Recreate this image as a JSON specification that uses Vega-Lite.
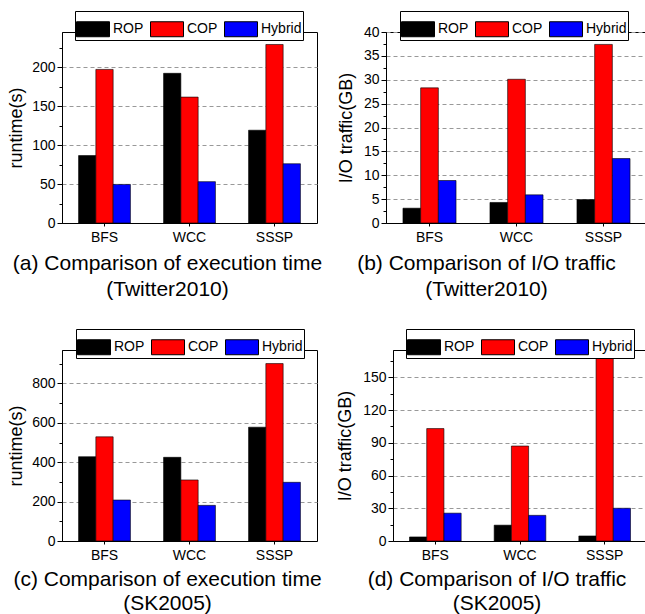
{
  "$schema": "https://vega.github.io/schema/vega-lite/v6.json",
  "padding": {"left": 7, "top": 10, "right": 0, "bottom": 0},
  "background": "white",
  "config": {
    "font": "Liberation Sans",
    "view": {"stroke": "#000", "strokeWidth": 1},
    "axis": {"domainColor": "#000", "tickColor": "#000", "labelColor": "#000", "titleColor": "#000", "labelFontSize": 14, "titleFontSize": 18, "titleFontWeight": "normal", "labelFont": "Liberation Sans", "titleFont": "Liberation Sans"},
    "title": {"fontSize": 21, "fontWeight": "normal", "font": "Liberation Sans", "color": "#000", "orient": "bottom", "anchor": "middle", "frame": "group", "baseline": "top", "lineHeight": 26, "offset": 9},
    "legend": {"orient": "none", "direction": "horizontal", "title": null, "symbolType": "M-1,-0.4545H1V0.4545H-1Z", "symbolSize": 1089, "symbolStrokeColor": "#000", "symbolStrokeWidth": 1, "labelFontSize": 14, "labelFont": "Liberation Sans", "labelColor": "#000", "strokeColor": "#000", "fillColor": "white", "padding": 1, "columnPadding": 4, "labelOffset": 3}
  },
  "datasets": {
    "a": [
      {"algo": "BFS", "method": "ROP", "value": 86.5}, {"algo": "BFS", "method": "COP", "value": 197}, {"algo": "BFS", "method": "Hybrid", "value": 49.5},
      {"algo": "WCC", "method": "ROP", "value": 192}, {"algo": "WCC", "method": "COP", "value": 161.5}, {"algo": "WCC", "method": "Hybrid", "value": 53},
      {"algo": "SSSP", "method": "ROP", "value": 119}, {"algo": "SSSP", "method": "COP", "value": 229}, {"algo": "SSSP", "method": "Hybrid", "value": 76}
    ],
    "b": [
      {"algo": "BFS", "method": "ROP", "value": 3.1}, {"algo": "BFS", "method": "COP", "value": 28.3}, {"algo": "BFS", "method": "Hybrid", "value": 8.9},
      {"algo": "WCC", "method": "ROP", "value": 4.3}, {"algo": "WCC", "method": "COP", "value": 30.1}, {"algo": "WCC", "method": "Hybrid", "value": 5.9},
      {"algo": "SSSP", "method": "ROP", "value": 4.9}, {"algo": "SSSP", "method": "COP", "value": 37.4}, {"algo": "SSSP", "method": "Hybrid", "value": 13.5}
    ],
    "c": [
      {"algo": "BFS", "method": "ROP", "value": 428}, {"algo": "BFS", "method": "COP", "value": 529}, {"algo": "BFS", "method": "Hybrid", "value": 208},
      {"algo": "WCC", "method": "ROP", "value": 425}, {"algo": "WCC", "method": "COP", "value": 310}, {"algo": "WCC", "method": "Hybrid", "value": 181},
      {"algo": "SSSP", "method": "ROP", "value": 578}, {"algo": "SSSP", "method": "COP", "value": 901}, {"algo": "SSSP", "method": "Hybrid", "value": 298}
    ],
    "d": [
      {"algo": "BFS", "method": "ROP", "value": 3.7}, {"algo": "BFS", "method": "COP", "value": 103}, {"algo": "BFS", "method": "Hybrid", "value": 25.5},
      {"algo": "WCC", "method": "ROP", "value": 14.5}, {"algo": "WCC", "method": "COP", "value": 87}, {"algo": "WCC", "method": "Hybrid", "value": 23.5},
      {"algo": "SSSP", "method": "ROP", "value": 4.6}, {"algo": "SSSP", "method": "COP", "value": 170}, {"algo": "SSSP", "method": "Hybrid", "value": 30}
    ]
  },
  "spacing": 27,
  "resolve": {"scale": {"x": "independent", "y": "independent", "xOffset": "independent", "fill": "independent"}, "legend": {"fill": "independent"}},
  "vconcat": [
    {
      "hconcat": [
        {
          "width": 255, "height": 191,
          "data": {"name": "a"},
          "title": {"text": ["(a) Comparison of execution time", "(Twitter2010)"], "dx": -22},
          "layer": [
            {
              "mark": {"type": "bar", "stroke": "#000", "strokeWidth": 1, "strokeOpacity": 0.6},
              "encoding": {
                "x": {"field": "algo", "type": "nominal", "sort": ["BFS", "WCC", "SSSP"], "scale": {"paddingInner": 0.39, "paddingOuter": 0.195}, "axis": {"title": null, "labelAngle": 0, "tickSize": 3, "labelPadding": 4, "grid": false}},
                "xOffset": {"field": "method", "type": "nominal", "sort": ["ROP", "COP", "Hybrid"], "scale": {"paddingInner": 0, "paddingOuter": 0}},
                "y": {"field": "value", "type": "quantitative", "scale": {"domain": [0, 245], "nice": false}, "axis": {"title": "runtime(s)", "values": [0, 50, 100, 150, 200], "grid": true, "gridDash": [4, 3], "gridColor": "#999", "tickSize": 5, "labelPadding": 2, "titlePadding": 6}},
                "fill": {"field": "method", "type": "nominal", "scale": {"domain": ["ROP", "COP", "Hybrid"], "range": ["#000000", "#ff0000", "#0000ff"]}, "legend": {"legendX": 13, "legendY": -21}}
              }
            },
            {
              "mark": {"type": "point", "opacity": 0},
              "encoding": {"y": {"field": "value", "type": "quantitative", "axis": {"orient": "left", "values": [25, 75, 125, 175, 225], "labels": false, "tickSize": 3, "domain": false, "grid": false, "title": null}}}
            }
          ],
          "resolve": {"axis": {"y": "independent"}}
        },
        {
          "width": 261, "height": 191,
          "data": {"name": "b"},
          "title": {"text": ["(b) Comparison of I/O traffic", "(Twitter2010)"], "dx": -30},
          "layer": [
            {
              "mark": {"type": "bar", "stroke": "#000", "strokeWidth": 1, "strokeOpacity": 0.6},
              "encoding": {
                "x": {"field": "algo", "type": "nominal", "sort": ["BFS", "WCC", "SSSP"], "scale": {"paddingInner": 0.39, "paddingOuter": 0.195}, "axis": {"title": null, "labelAngle": 0, "tickSize": 3, "labelPadding": 4, "grid": false}},
                "xOffset": {"field": "method", "type": "nominal", "sort": ["ROP", "COP", "Hybrid"], "scale": {"paddingInner": 0, "paddingOuter": 0}},
                "y": {"field": "value", "type": "quantitative", "scale": {"domain": [0, 40], "nice": false}, "axis": {"title": "I/O traffic(GB)", "values": [0, 5, 10, 15, 20, 25, 30, 35, 40], "grid": true, "gridDash": [4, 3], "gridColor": "#999", "tickSize": 5, "labelPadding": 2, "titlePadding": 8}},
                "fill": {"field": "method", "type": "nominal", "scale": {"domain": ["ROP", "COP", "Hybrid"], "range": ["#000000", "#ff0000", "#0000ff"]}, "legend": {"legendX": 14, "legendY": -21}}
              }
            },
            {
              "mark": {"type": "point", "opacity": 0},
              "encoding": {"y": {"field": "value", "type": "quantitative", "axis": {"orient": "left", "values": [2.5, 7.5, 12.5, 17.5, 22.5, 27.5, 32.5, 37.5], "labels": false, "tickSize": 3, "domain": false, "grid": false, "title": null}}}
            }
          ],
          "resolve": {"axis": {"y": "independent"}}
        }
      ],
      "spacing": 69,
      "bounds": "flush",
      "resolve": {"scale": {"x": "independent", "y": "independent", "xOffset": "independent", "fill": "independent"}, "legend": {"fill": "independent"}}
    },
    {
      "hconcat": [
        {
          "width": 255, "height": 191,
          "data": {"name": "c"},
          "title": {"text": ["(c) Comparison of execution time", "(SK2005)"], "dx": -22, "offset": 7, "lineHeight": 24},
          "layer": [
            {
              "mark": {"type": "bar", "stroke": "#000", "strokeWidth": 1, "strokeOpacity": 0.6},
              "encoding": {
                "x": {"field": "algo", "type": "nominal", "sort": ["BFS", "WCC", "SSSP"], "scale": {"paddingInner": 0.39, "paddingOuter": 0.195}, "axis": {"title": null, "labelAngle": 0, "tickSize": 3, "labelPadding": 4, "grid": false}},
                "xOffset": {"field": "method", "type": "nominal", "sort": ["ROP", "COP", "Hybrid"], "scale": {"paddingInner": 0, "paddingOuter": 0}},
                "y": {"field": "value", "type": "quantitative", "scale": {"domain": [0, 970], "nice": false}, "axis": {"title": "runtime(s)", "values": [0, 200, 400, 600, 800], "grid": true, "gridDash": [4, 3], "gridColor": "#999", "tickSize": 5, "labelPadding": 2, "titlePadding": 6}},
                "fill": {"field": "method", "type": "nominal", "scale": {"domain": ["ROP", "COP", "Hybrid"], "range": ["#000000", "#ff0000", "#0000ff"]}, "legend": {"legendX": 14, "legendY": -21}}
              }
            },
            {
              "mark": {"type": "point", "opacity": 0},
              "encoding": {"y": {"field": "value", "type": "quantitative", "axis": {"orient": "left", "values": [100, 300, 500, 700, 900], "labels": false, "tickSize": 3, "domain": false, "grid": false, "title": null}}}
            }
          ],
          "resolve": {"axis": {"y": "independent"}}
        },
        {
          "width": 254, "height": 191,
          "data": {"name": "d"},
          "title": {"text": ["(d) Comparison of I/O traffic", "(SK2005)"], "dx": -23, "offset": 7, "lineHeight": 24},
          "layer": [
            {
              "mark": {"type": "bar", "stroke": "#000", "strokeWidth": 1, "strokeOpacity": 0.6},
              "encoding": {
                "x": {"field": "algo", "type": "nominal", "sort": ["BFS", "WCC", "SSSP"], "scale": {"paddingInner": 0.39, "paddingOuter": 0.195}, "axis": {"title": null, "labelAngle": 0, "tickSize": 3, "labelPadding": 4, "grid": false}},
                "xOffset": {"field": "method", "type": "nominal", "sort": ["ROP", "COP", "Hybrid"], "scale": {"paddingInner": 0, "paddingOuter": 0}},
                "y": {"field": "value", "type": "quantitative", "scale": {"domain": [0, 175], "nice": false}, "axis": {"title": "I/O traffic(GB)", "values": [0, 30, 60, 90, 120, 150], "grid": true, "gridDash": [4, 3], "gridColor": "#999", "tickSize": 5, "labelPadding": 2, "titlePadding": 8}},
                "fill": {"field": "method", "type": "nominal", "scale": {"domain": ["ROP", "COP", "Hybrid"], "range": ["#000000", "#ff0000", "#0000ff"]}, "legend": {"legendX": 13, "legendY": -21}}
              }
            },
            {
              "mark": {"type": "point", "opacity": 0},
              "encoding": {"y": {"field": "value", "type": "quantitative", "axis": {"orient": "left", "values": [15, 45, 75, 105, 135, 165], "labels": false, "tickSize": 3, "domain": false, "grid": false, "title": null}}}
            }
          ],
          "resolve": {"axis": {"y": "independent"}}
        }
      ],
      "spacing": 76,
      "bounds": "flush",
      "resolve": {"scale": {"x": "independent", "y": "independent", "xOffset": "independent", "fill": "independent"}, "legend": {"fill": "independent"}}
    }
  ]
}
